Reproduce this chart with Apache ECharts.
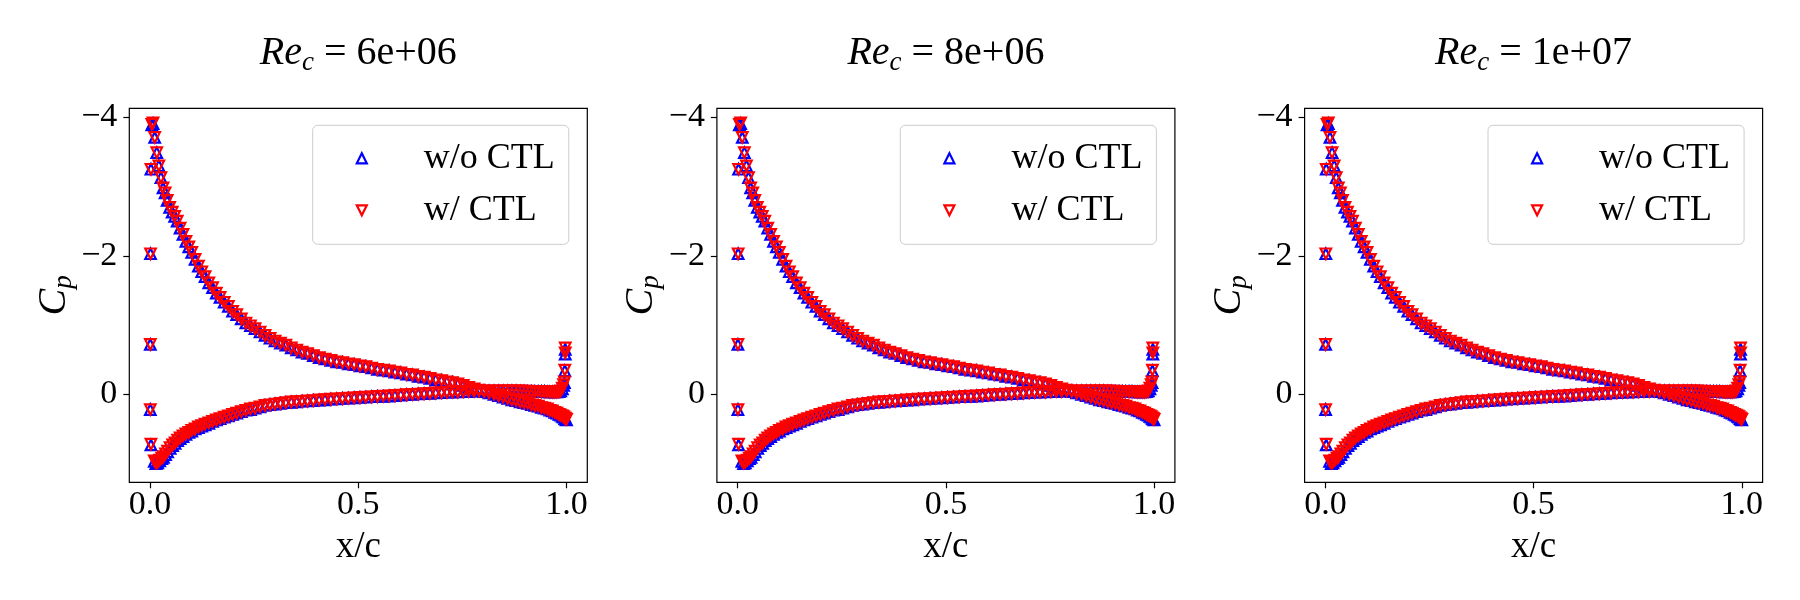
<!DOCTYPE html>
<html>
<head>
<meta charset="utf-8">
<script src="https://cdn.jsdelivr.net/npm/echarts@6/dist/echarts.min.js"></script>
<style>
html,body{margin:0;padding:0;background:#ffffff;}
#chart{width:1800px;height:600px;}
</style>
</head>
<body>
<div id="chart"></div>
<script>
// ---- data ----
const panelTitles = ['6e+06', '8e+06', '1e+07'];
const seriesNames = ['w/o CTL', 'w/ CTL'];
const xTicks = [0, 0.5, 1.0];
const yTicks = [-4, -2, 0];

// upper (suction) surface
const xUpper = [
  0.0005,0.001,0.002,0.004,0.007,0.011,0.016,0.021,0.026,0.031,
  0.036,0.041,0.047,0.053,0.059,0.065,0.072,0.079,0.086,0.093,
  0.100,0.108,0.116,0.124,0.132,0.141,0.150,0.159,0.168,0.178,
  0.188,0.198,0.208,0.219,0.230,0.241,0.252,0.264,0.276,0.288,
  0.300,0.313,0.326,0.339,0.352,0.365,0.378,0.392,0.406,0.420,
  0.434,0.448,0.462,0.476,0.490,0.504,0.518,0.532,0.546,0.560,
  0.574,0.588,0.602,0.616,0.630,0.644,0.658,0.672,0.686,0.700,
  0.713,0.726,0.739,0.752,0.765,0.778,0.790,0.802,0.814,0.826,
  0.837,0.848,0.859,0.869,0.879,0.889,0.898,0.907,0.916,0.924,
  0.932,0.940,0.947,0.954,0.960,0.966,0.972,0.977,0.982,0.986,
  0.990,0.993,0.996,0.998,1.000
];
const cpUpperWoCTL = [
  -0.72,-2.03,-3.25,-3.89,-3.91,-3.71,-3.49,-3.30,-3.13,-2.98,
  -2.91,-2.80,-2.70,-2.63,-2.57,-2.50,-2.40,-2.31,-2.21,-2.13,
  -2.05,-1.95,-1.85,-1.77,-1.70,-1.61,-1.54,-1.46,-1.40,-1.33,
  -1.27,-1.20,-1.15,-1.09,-1.03,-0.99,-0.95,-0.90,-0.85,-0.81,
  -0.77,-0.74,-0.71,-0.67,-0.64,-0.61,-0.59,-0.56,-0.53,-0.51,
  -0.49,-0.47,-0.46,-0.44,-0.43,-0.41,-0.40,-0.38,-0.36,-0.35,
  -0.34,-0.32,-0.31,-0.29,-0.28,-0.26,-0.25,-0.23,-0.21,-0.20,
  -0.18,-0.17,-0.15,-0.13,-0.10,-0.08,-0.06,-0.04,-0.02,0.00,
  0.02,0.04,0.06,0.08,0.09,0.11,0.12,0.13,0.15,0.16,
  0.17,0.19,0.20,0.21,0.23,0.24,0.26,0.27,0.29,0.30,
  0.32,0.33,0.35,0.36,0.37
];
const cpUpperWCTL = [
  -0.72,-2.03,-3.25,-3.90,-3.92,-3.71,-3.49,-3.30,-3.13,-2.98,
  -2.91,-2.80,-2.70,-2.63,-2.57,-2.50,-2.40,-2.31,-2.21,-2.13,
  -2.05,-1.95,-1.85,-1.77,-1.70,-1.61,-1.54,-1.46,-1.40,-1.33,
  -1.27,-1.20,-1.15,-1.09,-1.03,-0.99,-0.95,-0.90,-0.85,-0.81,
  -0.77,-0.74,-0.71,-0.67,-0.64,-0.61,-0.59,-0.56,-0.53,-0.51,
  -0.49,-0.47,-0.46,-0.44,-0.43,-0.41,-0.40,-0.38,-0.36,-0.35,
  -0.34,-0.32,-0.31,-0.29,-0.28,-0.26,-0.25,-0.23,-0.21,-0.20,
  -0.18,-0.17,-0.15,-0.13,-0.10,-0.08,-0.06,-0.04,-0.02,0.00,
  0.02,0.04,0.06,0.08,0.09,0.11,0.12,0.13,0.15,0.16,
  0.17,0.19,0.20,0.21,0.23,0.24,0.26,0.27,0.29,0.30,
  0.31,0.32,0.34,0.35,0.36
];

// lower (pressure) surface
const xLower = [
  0.0005,0.002,0.010,0.014,0.018,0.023,0.028,0.032,0.037,0.042,
  0.048,0.054,0.060,0.066,0.072,0.079,0.086,0.093,0.100,0.108,
  0.116,0.124,0.132,0.141,0.150,0.159,0.168,0.178,0.188,0.198,
  0.208,0.219,0.230,0.241,0.252,0.264,0.276,0.288,0.300,0.313,
  0.326,0.339,0.352,0.365,0.378,0.392,0.406,0.420,0.434,0.448,
  0.462,0.476,0.490,0.504,0.518,0.532,0.546,0.560,0.574,0.588,
  0.602,0.616,0.630,0.644,0.658,0.672,0.686,0.700,0.713,0.726,
  0.739,0.752,0.765,0.778,0.790,0.802,0.814,0.826,0.837,0.848,
  0.859,0.869,0.879,0.889,0.898,0.907,0.916,0.924,0.932,0.940,
  0.947,0.954,0.960,0.966,0.972,0.977,0.982,0.986,0.990,0.993,
  0.995,0.996,0.997,0.997
];
const cpLowerWoCTL = [
  0.22,0.73,0.97,1.00,0.99,0.96,0.93,0.91,0.87,0.83,
  0.78,0.74,0.71,0.67,0.64,0.61,0.58,0.55,0.53,0.50,
  0.48,0.46,0.44,0.42,0.39,0.37,0.35,0.33,0.31,0.29,
  0.27,0.25,0.23,0.22,0.20,0.18,0.16,0.15,0.14,0.13,
  0.12,0.115,0.11,0.10,0.095,0.09,0.085,0.08,0.07,0.065,
  0.06,0.055,0.05,0.045,0.04,0.035,0.03,0.03,0.025,0.02,
  0.01,0.005,0.0,-0.005,-0.01,-0.015,-0.02,-0.025,-0.03,-0.03,
  -0.035,-0.04,-0.04,-0.045,-0.05,-0.05,-0.05,-0.05,-0.05,-0.05,
  -0.05,-0.05,-0.05,-0.045,-0.045,-0.04,-0.04,-0.04,-0.04,-0.04,
  -0.04,-0.035,-0.035,-0.035,-0.035,-0.035,-0.04,-0.05,-0.08,-0.13,
  -0.17,-0.34,-0.58,-0.65
];
const cpLowerWCTL = [
  0.22,0.72,0.96,0.99,0.98,0.95,0.92,0.90,0.86,0.82,
  0.77,0.73,0.70,0.66,0.63,0.60,0.57,0.55,0.52,0.50,
  0.47,0.45,0.43,0.41,0.39,0.37,0.35,0.33,0.31,0.29,
  0.27,0.25,0.23,0.21,0.20,0.18,0.16,0.15,0.14,0.13,
  0.12,0.11,0.105,0.10,0.095,0.09,0.08,0.075,0.07,0.065,
  0.06,0.055,0.05,0.045,0.04,0.035,0.03,0.025,0.02,0.015,
  0.01,0.005,0.0,-0.005,-0.01,-0.015,-0.02,-0.025,-0.03,-0.035,
  -0.035,-0.04,-0.045,-0.045,-0.05,-0.05,-0.05,-0.05,-0.05,-0.05,
  -0.05,-0.05,-0.05,-0.05,-0.045,-0.045,-0.04,-0.04,-0.04,-0.04,
  -0.04,-0.04,-0.035,-0.035,-0.035,-0.035,-0.04,-0.05,-0.09,-0.14,
  -0.18,-0.35,-0.60,-0.67
];

// ---- layout / style ----
const FONT = '"Liberation Serif", "DejaVu Serif", serif';
const gridLefts = [129.3, 716.9, 1304.6];
const gridTop = 108.3, gridW = 458, gridH = 374;
const colors = ['#0000ff', '#ff0000'];
const ICON_UP = 'path://M5,0 L10,10 L0,10 Z';
const ICON_DOWN = 'path://M0,0 L10,0 L5,10 Z';

function zip(xs, ys) {
  const n = Math.min(xs.length, ys.length);
  const out = [];
  for (let i = 0; i < n; i++) out.push([xs[i], ys[i]]);
  return out;
}
const dataWo = zip(xUpper, cpUpperWoCTL).concat(zip(xLower, cpLowerWoCTL));
const dataW = zip(xUpper, cpUpperWCTL).concat(zip(xLower, cpLowerWCTL));

const richMath = {
  i: {fontFamily: FONT, fontStyle: 'italic', fontWeight: 'normal', fontSize: 40, lineHeight: 46, color: '#000'},
  s: {fontFamily: FONT, fontStyle: 'italic', fontWeight: 'normal', fontSize: 27, lineHeight: 22, verticalAlign: 'bottom', color: '#000'},
  n: {fontFamily: FONT, fontWeight: 'normal', fontSize: 40, lineHeight: 46, color: '#000'}
};

const option = {
  animation: false,
  backgroundColor: '#ffffff',
  title: panelTitles.map((t, i) => ({
    text: '{i|Re}{s|c}{n| = ' + t + '}',
    left: gridLefts[i] + gridW / 2,
    top: 30,
    padding: 0,
    textAlign: 'center',
    textVerticalAlign: 'top',
    textStyle: {fontWeight: 'normal', rich: richMath}
  })),
  grid: gridLefts.map(l => ({
    left: l, top: gridTop, width: gridW, height: gridH,
    show: true, borderColor: '#000000', borderWidth: 1.2,
    backgroundColor: 'transparent', containLabel: false, outerBoundsMode: 'none'
  })),
  legend: gridLefts.map(l => ({
    data: [
      {name: seriesNames[0], icon: ICON_UP,
       itemStyle: {color: 'rgba(0,0,0,0)', borderColor: colors[0], borderWidth: 2.2}},
      {name: seriesNames[1], icon: ICON_DOWN,
       itemStyle: {color: 'rgba(0,0,0,0)', borderColor: colors[1], borderWidth: 2.2}}
    ],
    orient: 'vertical',
    left: l + 183.4,
    top: 125.3,
    itemWidth: 10,
    itemHeight: 10,
    itemGap: 12,
    padding: [13, 14, 14, 43],
    backgroundColor: 'rgba(255,255,255,0.8)',
    borderColor: '#cccccc',
    borderWidth: 1,
    borderRadius: 5,
    selectedMode: false,
    textStyle: {fontFamily: FONT, fontSize: 36, color: '#000', lineHeight: 40, padding: [0, 0, 0, 52]}
  })),
  xAxis: gridLefts.map((l, i) => ({
    gridIndex: i, type: 'value', min: -0.05, max: 1.05,
    splitLine: {show: false},
    axisLine: {show: false, onZero: false},
    axisTick: {show: true, length: 6, customValues: xTicks, lineStyle: {color: '#000', width: 1.2}},
    axisLabel: {customValues: xTicks, formatter: v => v.toFixed(1), color: '#000',
                fontFamily: FONT, fontSize: 34, margin: 6},
    name: 'x/c', nameLocation: 'middle', nameGap: 41,
    nameTextStyle: {fontFamily: FONT, fontSize: 37, color: '#000', lineHeight: 40}
  })),
  yAxis: gridLefts.map((l, i) => ({
    gridIndex: i, type: 'value', inverse: true, min: -4.13, max: 1.27,
    splitLine: {show: false},
    axisLine: {show: false, onZero: false},
    axisTick: {show: true, length: 6, customValues: yTicks, lineStyle: {color: '#000', width: 1.2}},
    axisLabel: {customValues: yTicks, formatter: v => (v < 0 ? '\u2212' + Math.abs(v) : String(v)),
                color: '#000', fontFamily: FONT, fontSize: 34, margin: 12},
    name: '{i|C}{s|p}', nameLocation: 'middle', nameGap: 52, nameRotate: 90,
    nameTextStyle: {rich: richMath}
  })),
  series: []
};

gridLefts.forEach((l, i) => {
  [dataWo, dataW].forEach((d, k) => {
    option.series.push({
      type: 'scatter',
      name: seriesNames[k],
      xAxisIndex: i, yAxisIndex: i,
      symbol: 'triangle',
      symbolSize: 10.5,
      symbolRotate: k === 1 ? 180 : 0,
      itemStyle: {color: 'rgba(0,0,0,0)', borderColor: colors[k], borderWidth: 2.2, opacity: 1},
      emphasis: {disabled: true},
      data: d
    });
  });
});

const chart = echarts.init(document.getElementById('chart'), null, {renderer: 'canvas'});
chart.setOption(option);
</script>
</body>
</html>
